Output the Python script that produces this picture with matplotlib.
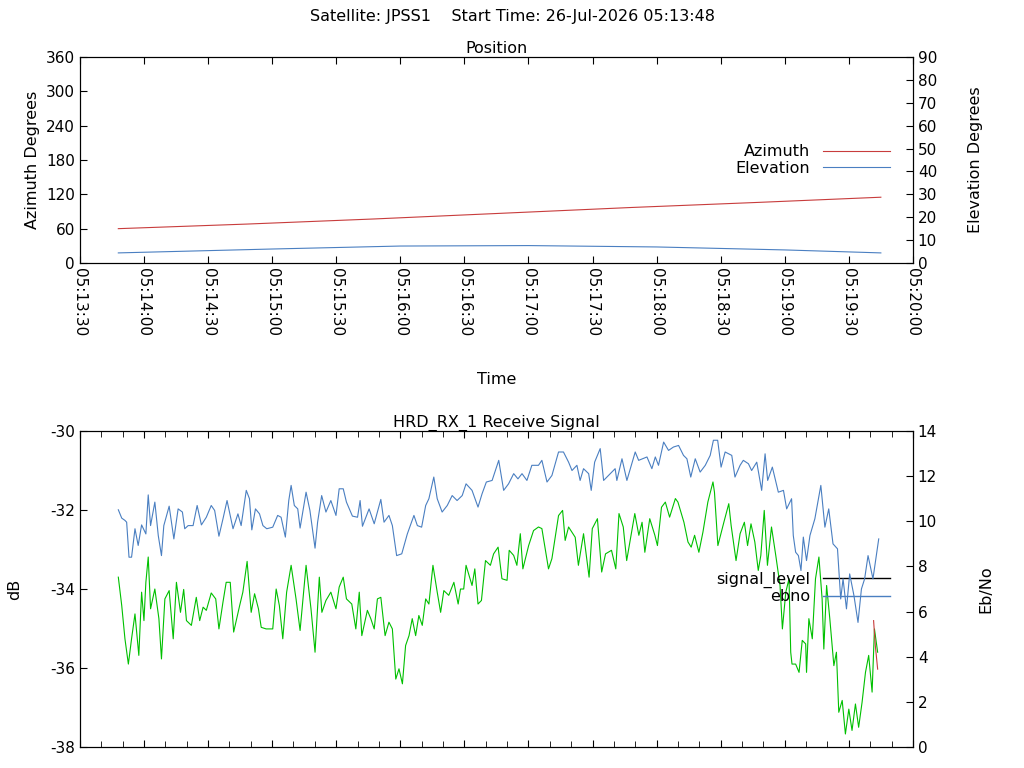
import matplotlib
matplotlib.use("Agg")
import matplotlib.pyplot as plt
from matplotlib.ticker import FuncFormatter, MultipleLocator
from matplotlib.lines import Line2D

plt.rcParams["axes.unicode_minus"] = False

# seconds after 05:13:30 where the pass starts (05:13:48)
start_sec = 18

# position data (seconds after start)
pos_t = [0, 60, 120, 180, 240, 300, 357]
azimuth = [60, 68, 77, 87, 97, 106, 115]
elev_t = [0, 72, 132, 192, 252, 312, 357]
elevation = [4.4, 6.1, 7.4, 7.6, 7.0, 5.7, 4.4]

# ebno (right axis)
ebno_t = [0, 1.6, 3.1, 3.9, 5.0, 6.2, 7.8, 9.3, 10.9, 12.9, 14.0, 15.1, 17.1, 18.7, 20.2, 21.3, 23.8, 26.0, 28.0, 30.0,
          31.1, 32.7, 35.0, 36.9, 38.9, 41.2, 43.5, 45.1, 47.1, 49.0, 50.9, 53.7, 56.0, 57.5, 59.9, 61.4, 62.5, 64.2,
          66.1, 67.7, 69.5, 72.3, 74.6, 76.2, 78.2, 79.8, 80.9, 82.4, 84.0, 85.1, 87.9, 89.7, 92.1, 93.3, 95.2, 97.2,
          99.5, 101.9, 103.4, 105.3, 106.8, 109.6, 112.0, 113.2, 114.3, 117.4, 119.8, 122.9, 124.4, 126.7, 128.3,
          130.3, 132.7, 135.3, 138.4, 140.0, 142.0, 143.9, 145.4, 147.7, 149.3, 151.6, 154.0, 156.3, 158.6, 161.0,
          162.8, 165.6, 168.4, 170.3, 172.3, 175.0, 178.1, 180.4, 182.7, 185.1, 187.1, 189.0, 191.3, 193.6, 196.7,
          198.3, 200.7, 203.0, 206.1, 208.4, 210.8, 212.4, 214.7, 216.2, 217.8, 220.2, 221.4, 223.0, 225.6, 227.2,
          229.5, 232.6, 233.4, 235.8, 238.1, 242.0, 243.6, 247.5, 249.8, 251.4, 252.9, 255.3, 257.6, 259.9, 262.3,
          264.6, 266.2, 268.0, 270.1, 272.4, 274.8, 277.1, 278.6, 280.6, 282.2, 284.1, 287.2, 288.7, 291.1, 292.6,
          295.0, 296.5, 298.9, 301.2, 302.8, 304.0, 306.2, 309.0, 311.4, 312.9, 315.2, 316.0, 317.1, 318.4, 319.6,
          320.7, 322.2, 323.8, 326.1, 328.9, 330.8, 332.6, 334.6, 336.7, 338.2, 339.3, 340.9, 342.4, 344.4, 346.3,
          347.9, 349.4, 351.0, 353.3, 356.0]
ebno = [10.51, 10.14, 10.04, 9.96, 8.41, 8.41, 9.67, 8.93, 9.84, 9.44, 11.17, 9.81, 10.85, 9.37, 8.48, 9.81, 10.67,
        9.22, 10.55, 10.41, 9.67, 9.81, 9.81, 10.70, 9.84, 10.18, 10.70, 10.48, 9.34, 10.11, 10.92, 9.67, 10.33, 9.81,
        11.37, 11.00, 9.62, 10.55, 10.33, 9.81, 9.67, 9.74, 10.26, 10.18, 9.30, 10.92, 11.59, 10.70, 10.55, 9.70,
        11.29, 10.48, 8.81, 9.96, 11.14, 10.41, 10.92, 10.26, 11.44, 11.44, 10.85, 10.23, 10.18, 10.92, 9.78, 10.55,
        9.89, 10.97, 9.96, 10.26, 9.81, 8.48, 8.56, 9.44, 10.26, 9.81, 9.74, 10.70, 11.00, 11.96, 11.00, 10.41, 10.70,
        11.14, 10.92, 11.14, 11.66, 11.37, 10.63, 11.22, 11.74, 11.81, 12.70, 11.37, 11.66, 12.11, 11.88, 12.11, 11.81,
        12.48, 12.48, 12.70, 11.74, 12.03, 13.07, 13.07, 12.62, 12.25, 12.48, 11.81, 12.33, 12.11, 11.37, 12.62, 13.22,
        11.81, 12.03, 12.33, 11.81, 12.77, 11.81, 13.07, 12.70, 12.85, 12.33, 12.85, 12.48, 13.51, 13.14, 13.29, 13.36,
        12.92, 12.77, 11.96, 12.77, 12.18, 12.48, 12.92, 13.59, 13.59, 12.40, 13.07, 12.92, 11.96, 12.48, 12.70, 12.55,
        12.25, 12.62, 11.37, 12.99, 11.81, 12.40, 11.29, 11.37, 10.55, 11.00, 9.37, 8.63, 8.48, 7.82, 9.30, 8.26, 9.37,
        10.11, 11.59, 9.74, 10.55, 9.00, 8.78, 6.56, 7.45, 6.12, 7.67, 6.71, 5.52, 7.00, 7.45, 8.48, 7.45, 9.22]

# signal level in dB (left axis)
sig_t = [0, 1.6, 3.1, 4.7, 6.2, 7.8, 9.6, 10.9, 12.0, 12.9, 14.0, 15.1, 17.1, 19.0, 20.2, 21.8, 23.8, 25.7, 27.2,
         29.1, 30.6, 31.9, 34.2, 36.5, 38.1, 39.7, 41.2, 43.5, 45.6, 47.1, 49.0, 50.5, 52.4, 54.0, 56.8, 58.3, 60.3,
         62.2, 63.8, 65.6, 66.9, 69.2, 72.3, 73.9, 75.4, 77.0, 78.8, 80.9, 83.2, 85.1, 87.9, 90.2, 92.1, 94.1, 95.3,
         97.2, 99.5, 101.9, 103.4, 105.3, 106.8, 109.3, 111.2, 112.8, 114.0, 116.6, 118.2, 119.8, 121.3, 122.9, 124.9,
         126.7, 128.3, 129.9, 131.4, 133.0, 134.5, 136.1, 137.6, 139.2, 140.7, 142.3, 143.9, 145.4, 147.3, 149.3,
         150.9, 152.4, 154.7, 157.1, 159.1, 160.2, 161.7, 162.8, 165.6, 166.9, 168.4, 170.0, 171.9, 174.2, 175.7,
         177.8, 179.6, 182.0, 183.0, 185.1, 186.6, 188.2, 189.4, 192.1, 194.4, 196.7, 198.3, 201.4, 203.0, 206.1,
         208.0, 209.2, 210.8, 213.9, 215.4, 217.8, 220.4, 221.9, 224.3, 226.3, 228.1, 230.9, 232.9, 234.4, 236.4,
         238.0, 240.3, 241.8, 243.7, 245.2, 246.5, 248.8, 251.2, 252.4, 254.3, 256.1, 258.1, 260.8, 262.0, 264.8,
         266.7, 268.2, 269.8, 271.8, 273.7, 276.0, 278.4, 279.1, 280.7, 283.5, 285.8, 286.9, 289.2, 291.1, 293.1,
         294.6, 296.2, 298.0, 299.6, 300.8, 302.4, 303.9, 305.8, 307.8, 309.8, 310.9, 312.5, 314.0, 314.8, 315.4,
         317.1, 318.7, 320.2, 321.8, 322.2, 323.3, 324.9, 326.4, 328.0, 329.5, 330.3, 331.6, 333.1, 335.0, 336.2,
         337.3, 338.9, 340.4, 342.0, 343.5, 345.1, 346.6, 348.2, 349.8, 351.3, 352.9, 354.0, 355.5]
signal_level = [-33.70, -34.42, -35.26, -35.90, -35.26, -34.63, -35.68, -34.08, -34.80, -33.83, -33.19, -34.50,
                -34.00, -34.75, -35.77, -34.25, -34.04, -35.26, -33.83, -34.59, -34.01, -34.80, -34.92, -34.21,
                -34.80, -34.46, -34.54, -34.10, -34.25, -35.01, -34.33, -33.83, -33.83, -35.09, -34.42, -34.08,
                -33.30, -34.59, -34.12, -34.50, -34.97, -35.01, -35.01, -34.00, -34.42, -35.26, -34.08, -33.40,
                -34.25, -35.05, -33.40, -34.50, -35.60, -33.70, -34.59, -34.29, -34.08, -34.50, -33.95, -33.70,
                -34.25, -34.38, -35.01, -34.08, -35.18, -34.54, -34.75, -35.01, -34.25, -34.21, -35.18, -34.84,
                -35.01, -36.28, -36.02, -36.40, -35.43, -35.18, -34.75, -35.18, -34.67, -34.92, -34.25, -34.38,
                -33.40, -34.08, -34.59, -34.04, -34.16, -33.83, -34.38, -34.00, -34.00, -33.40, -33.91, -33.49,
                -34.38, -34.29, -33.28, -33.40, -33.11, -32.94, -33.74, -33.78, -33.02, -33.15, -33.40, -32.60,
                -33.49, -32.90, -32.52, -32.43, -32.47, -33.49, -33.23, -32.14, -32.01, -32.77, -32.43, -32.69,
                -33.40, -32.60, -33.70, -32.47, -32.22, -33.57, -33.11, -33.02, -33.49, -32.09, -32.43, -33.28,
                -32.56, -32.09, -32.64, -32.31, -33.07, -32.22, -32.64, -32.90, -31.93, -31.80, -32.18, -31.71,
                -31.80, -32.31, -32.81, -32.94, -32.64, -33.07, -32.56, -31.80, -31.29, -31.55, -32.90, -32.31,
                -31.84, -32.39, -33.28, -32.60, -32.31, -32.90, -32.35, -32.81, -33.53, -33.15, -32.01, -33.40,
                -32.43, -33.15, -33.91, -35.01, -34.08, -33.74, -35.60, -35.90, -35.90, -36.11, -35.30, -35.39,
                -36.11, -34.75, -35.26, -33.74, -33.19, -34.25, -35.52, -33.91, -34.75, -35.94, -35.60, -37.12,
                -36.82, -37.67, -37.04, -37.58, -36.91, -37.50, -36.87, -36.11, -35.68, -36.61, -35.01, -35.60]

# short red tail at the very end (right axis)
tail_t = [353.6, 354.4, 355.5]
tail = [5.6, 4.5, 3.45]

RED = "#c83c3c"
BLUE = "#4a7fc1"
GREEN = "#00c000"
FS = 11.5


def shift(ts):
    return [t + start_sec for t in ts]


def clock(x, pos):
    s = int(round(x)) + 13 * 60 + 30
    return "05:%02d:%02d" % (s // 60, s % 60)


fig = plt.figure(figsize=(10.24, 7.68), dpi=100)
fig.text(0.5, 0.978, "Satellite: JPSS1    Start Time: 26-Jul-2026 05:13:48", ha="center", va="center", fontsize=FS)

# ---- position plot ----
ax1 = fig.add_axes([0.078, 0.6576, 0.8135, 0.268])
ax1b = ax1.twinx()
l1, = ax1.plot(shift(pos_t), azimuth, color=RED, lw=0.8, label="Azimuth")
l2, = ax1b.plot(shift(elev_t), elevation, color=BLUE, lw=0.8, label="Elevation")
ax1.set_xlim(0, 390)
ax1.set_ylim(0, 360)
ax1b.set_ylim(0, 90)
ax1.set_yticks(range(0, 361, 60))
ax1b.set_yticks(range(0, 91, 10))
ax1.xaxis.set_major_locator(MultipleLocator(30))
ax1.xaxis.set_major_formatter(FuncFormatter(clock))
for lab in ax1.get_xticklabels():
    lab.set_rotation(270)
ax1.set_title("Position", fontsize=FS, pad=3)
ax1.set_xlabel("Time", fontsize=FS, labelpad=26)
ax1.set_ylabel("Azimuth Degrees", fontsize=FS)
ax1b.set_ylabel("Elevation Degrees", fontsize=FS, labelpad=22)
ax1.legend([l1, l2], ["Azimuth", "Elevation"], loc="center right", bbox_to_anchor=(0.99, 0.5),
           frameon=False, markerfirst=False, handlelength=4.2, fontsize=FS, labelspacing=0.1)

# ---- receive signal plot ----
ax2 = fig.add_axes([0.078, 0.0273, 0.8135, 0.4115])
ax2b = ax2.twinx()
ax2.plot(shift(sig_t), signal_level, color=GREEN, lw=0.8)
ax2b.plot(shift(ebno_t), ebno, color=BLUE, lw=0.8)
ax2b.plot(shift(tail_t), tail, color=RED, lw=0.8)
ax2.set_xlim(0, 390)
ax2.set_ylim(-38, -30)
ax2b.set_ylim(0, 14)
ax2.set_yticks(range(-38, -29, 2))
ax2b.set_yticks(range(0, 15, 2))
ax2.xaxis.set_major_locator(MultipleLocator(30))
ax2.xaxis.set_minor_locator(MultipleLocator(10))
ax2.set_xticklabels([])
ax2.set_title("HRD_RX_1 Receive Signal", fontsize=FS, pad=3)
ax2.set_ylabel("dB", fontsize=FS, labelpad=20)
ax2b.set_ylabel("Eb/No", fontsize=FS, labelpad=30)
handles = [Line2D([], [], color="black", lw=1), Line2D([], [], color=BLUE, lw=1)]
ax2.legend(handles, ["signal_level", "ebno"], loc="center right", bbox_to_anchor=(0.99, 0.503),
           frameon=False, markerfirst=False, handlelength=4.2, fontsize=FS, labelspacing=0.1)

for a in (ax1, ax1b, ax2, ax2b):
    a.tick_params(direction="in", labelsize=11, length=5)
    a.tick_params(which="minor", direction="in", length=4, top=False)
ax2.tick_params(top=True, which="both")
ax1.tick_params(axis="x", top=True)

fig.savefig("out.png", dpi=100)
